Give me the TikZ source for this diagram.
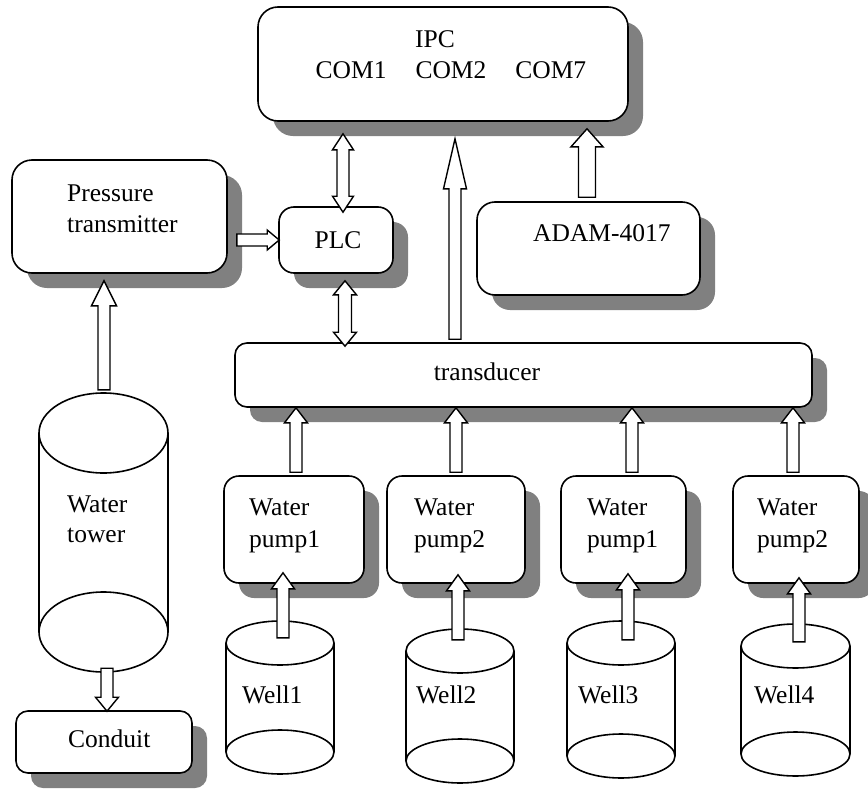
\documentclass[tikz,border=0pt]{standalone}
\usepackage{fontspec}
\setmainfont{Liberation Serif}
\usetikzlibrary{calc,shadows}
\tikzset{
  rbox/.style={draw=black, line width=1.6pt, fill=white, rounded corners=#1, inner sep=0pt,
    drop shadow={shadow xshift=15pt, shadow yshift=-15pt, fill=black!50, opacity=1, draw=none}},
  rbox/.default=15pt,
  txt/.style={inner sep=0pt, anchor=base west},
  txtc/.style={inner sep=0pt, anchor=base},
  arr/.style={draw=black, fill=white, line width=1.4pt, line join=miter},
  ln/.style={draw=black, line width=1.6pt},
}
% #1 start, #2 tip, #3 half shaft, #4 half head, #5 head length
\newcommand{\arrUp}[5]{\path[arr] let \p1=#1, \p2=#2 in (\x1-#3pt,\y1) -- (\x1-#3pt,\y2-#5pt) -- (\x1-#4pt,\y2-#5pt) -- (\x1,\y2) -- (\x1+#4pt,\y2-#5pt) -- (\x1+#3pt,\y2-#5pt) -- (\x1+#3pt,\y1) -- cycle;}
\newcommand{\arrDown}[5]{\path[arr] let \p1=#1, \p2=#2 in (\x1-#3pt,\y1) -- (\x1-#3pt,\y2+#5pt) -- (\x1-#4pt,\y2+#5pt) -- (\x1,\y2) -- (\x1+#4pt,\y2+#5pt) -- (\x1+#3pt,\y2+#5pt) -- (\x1+#3pt,\y1) -- cycle;}
\newcommand{\arrRight}[5]{\path[arr] let \p1=#1, \p2=#2 in (\x1,\y1-#3pt) -- (\x2-#5pt,\y1-#3pt) -- (\x2-#5pt,\y1-#4pt) -- (\x2,\y1) -- (\x2-#5pt,\y1+#4pt) -- (\x2-#5pt,\y1+#3pt) -- (\x1,\y1+#3pt) -- cycle;}
% #1 top tip, #2 bottom tip
\newcommand{\arrBoth}[5]{\path[arr] let \p1=#1, \p2=#2 in (\x1,\y1) -- (\x1+#4pt,\y1-#5pt) -- (\x1+#3pt,\y1-#5pt) -- (\x1+#3pt,\y2+#5pt) -- (\x1+#4pt,\y2+#5pt) -- (\x1,\y2) -- (\x1-#4pt,\y2+#5pt) -- (\x1-#3pt,\y2+#5pt) -- (\x1-#3pt,\y1-#5pt) -- (\x1-#4pt,\y1-#5pt) -- cycle;}
% name, cx, top, bottom, rx, ry
\newcommand{\tank}[6]{%
  \node[inner sep=0pt, minimum width=2*#5pt, minimum height=#4-#3pt] (#1) at (#2,{(#3+#4)/2}) {};
  \draw[ln] (#2,#3+#6) ellipse [x radius=#5pt, y radius=#6pt];
  \draw[ln] (#2,#4-#6) ellipse [x radius=#5pt, y radius=#6pt];
  \draw[ln] (#2-#5,#3+#6) -- (#2-#5,#4-#6) (#2+#5,#3+#6) -- (#2+#5,#4-#6);
}
\begin{document}
\begin{tikzpicture}[x=1pt, y=-1pt, font=\fontsize{25.5pt}{31pt}\selectfont]
\useasboundingbox (0,0) rectangle (868,790);
% boxes
\node[rbox=20pt, minimum width=370pt, minimum height=114pt] (ipc) at (443,64) {};
\node[rbox=20pt, minimum width=215pt, minimum height=113pt] (pres) at (119.5,216.5) {};
\node[rbox=15pt, minimum width=114pt, minimum height=66pt] (plc) at (336,240) {};
\node[rbox=18pt, minimum width=223pt, minimum height=93pt] (adam) at (588.5,248.5) {};
\node[rbox=12pt, minimum width=577pt, minimum height=64pt] (trans) at (523.5,375) {};
\node[rbox=15pt, minimum width=140pt, minimum height=107pt] (pump1) at (294,529.5) {};
\node[rbox=15pt, minimum width=138pt, minimum height=107pt] (pump2) at (456,529.5) {};
\node[rbox=15pt, minimum width=125pt, minimum height=107pt] (pump3) at (623.5,529.5) {};
\node[rbox=15pt, minimum width=126pt, minimum height=107pt] (pump4) at (796,529.5) {};
\node[rbox=12pt, minimum width=176pt, minimum height=62pt] (cond) at (104,742) {};
% tanks
\tank{tower}{103.5}{393}{672}{64.5}{40}
\tank{well1}{280}{621}{774}{54}{22}
\tank{well2}{460}{629}{783}{54}{22}
\tank{well3}{621}{621}{778}{54}{22}
\tank{well4}{795.5}{624}{776}{54.5}{22}
% texts
\node[txtc] (tipc) at (435,47) {IPC};
\node[txtc] (tcom) at (451,78) {COM1\hspace{29pt}COM2\hspace{29pt}COM7};
\node[txt] (tpres1) at (67,201) {Pressure};
\node[txt] (tpres2) at (67,232) {transmitter};
\node[txtc] (tplc) at (338,248) {PLC};
\node[txt] (tadam) at (533,241) {ADAM-4017};
\node[txtc] (ttrans) at (487,380) {transducer};
\node[txt] (tp1a) at (249,515) {Water};
\node[txt] (tp1b) at (249,547) {pump1};
\node[txt] (tp2a) at (414,515) {Water};
\node[txt] (tp2b) at (414,547) {pump2};
\node[txt] (tp3a) at (587,515) {Water};
\node[txt] (tp3b) at (587,547) {pump1};
\node[txt] (tp4a) at (757,515) {Water};
\node[txt] (tp4b) at (757,547) {pump2};
\node[txt] (ttow1) at (67,512) {Water};
\node[txt] (ttow2) at (67,542) {tower};
\node[txt] (tcond) at (68,747) {Conduit};
\node[txt] (tw1) at (242,703) {Well1};
\node[txt] (tw2) at (416,703) {Well2};
\node[txt] (tw3) at (578,703) {Well3};
\node[txt] (tw4) at (754,703) {Well4};
% arrows
\arrRight{($(pres.east |- plc.west)+(9,0)$)}{($(plc.west)+(1,0)$)}{6}{10}{12}
\arrBoth{($(plc.north |- ipc.south)+(7,12)$)}{($(plc.north)+(7,6)$)}{6}{10.5}{16}
\arrBoth{($(plc.south)+(9,7)$)}{($(plc.south |- trans.north)+(9,4)$)}{6.5}{11.5}{14}
\arrUp{($(trans.north)+(-68.5,-3)$)}{($(ipc.south)+(0,17)$)}{6}{11.5}{50}
\arrUp{($(adam.north)+(-1.5,-4)$)}{($(ipc.south)+(0,7)$)}{8.5}{16}{18}
\arrUp{($(tower.north)+(0.5,-3)$)}{($(pres.south)+(0,7)$)}{6}{12.5}{25}
\arrDown{($(tower.south)+(3.5,-4)$)}{($(cond.north)+(0,1)$)}{6}{11.5}{14}
\arrUp{($(pump1.north)+(2,-3)$)}{(trans.south)}{6}{11.5}{15}
\arrUp{($(pump2.north)+(0,-3)$)}{(trans.south)}{6}{11.5}{15}
\arrUp{($(pump3.north)+(8.5,-3)$)}{(trans.south)}{6}{11.5}{15}
\arrUp{($(pump4.north)+(-3,-3)$)}{(trans.south)}{6}{11.5}{15}
\arrUp{($(well1.north)+(3,17)$)}{($(pump1.south)+(0,-11)$)}{6}{11.5}{16}
\arrUp{($(well2.north)+(-2,11)$)}{($(pump2.south)+(0,-9)$)}{6}{11.5}{16}
\arrUp{($(well3.north)+(7,19)$)}{($(pump3.south)+(0,-10)$)}{6}{11.5}{16}
\arrUp{($(well4.north)+(3.5,18)$)}{($(pump4.south)+(0,-6)$)}{6}{11.5}{16}
\end{tikzpicture}
\end{document}
